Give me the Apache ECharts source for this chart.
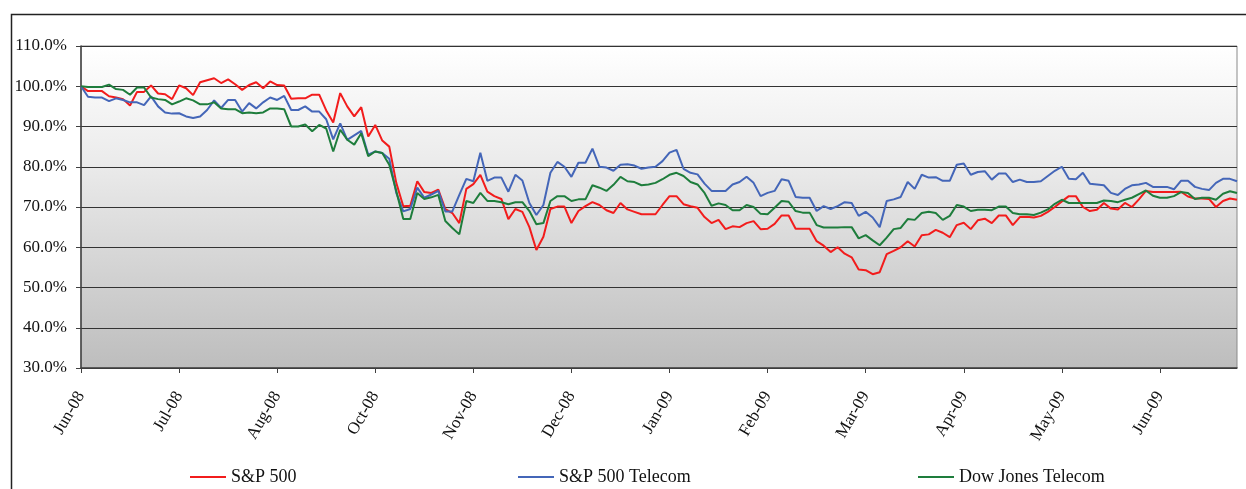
<!DOCTYPE html>
<html lang="en">
<head>
    <meta charset="UTF-8">
    <script src="https://cdn.jsdelivr.net/npm/echarts@6/dist/echarts.min.js"></script>
    <title>Index performance</title>
    <style>
        html, body { margin: 0; padding: 0; background: #fff; }
    </style>
</head>
<body>
<div id="main" style="width: 1246px;height:489px;"></div>

<script type="text/javascript">
    // month labels, one every perTick points
    var tickLabels = ['Jun-08', 'Jul-08', 'Aug-08', 'Oct-08', 'Nov-08', 'Dec-08',
        'Jan-09', 'Feb-09', 'Mar-09', 'Apr-09', 'May-09', 'Jun-09'];
    var perTick = 14;

    var seriesNames = ['S&P 500', 'S&P 500 Telecom', 'Dow Jones Telecom'];

    var sp500 = [
        100.0, 98.8, 98.8, 98.8, 97.5, 97.2, 96.8, 95.2, 98.6, 98.6, 100.2, 98.2, 98.0, 96.8,
        100.2, 99.5, 97.8, 101.0, 101.5, 102.0, 100.8, 101.7, 100.5, 99.1, 100.3, 101.0, 99.5, 101.2,
        100.3, 100.2, 96.9, 97.0, 97.0, 97.9, 97.9, 94.0, 91.0, 98.3, 95.0, 92.5, 94.8, 87.5,
        90.4, 86.5, 85.0, 76.0, 70.2, 70.3, 76.4, 73.7, 73.5, 74.3, 69.5, 68.5, 66.0, 74.5,
        75.7, 78.0, 73.8, 72.7, 72.0, 67.0, 69.5, 68.8, 65.0, 59.3, 62.6, 69.5, 70.1, 70.1,
        66.0, 69.0, 70.2, 71.2, 70.5, 69.2, 68.5, 71.0, 69.4, 68.8, 68.2, 68.2, 68.2, 70.5,
        72.7, 72.7, 70.7, 70.2, 69.8, 67.5, 66.0, 66.8, 64.5, 65.2, 65.0, 66.0, 66.5, 64.5,
        64.6, 65.8, 67.9, 67.9, 64.6, 64.6, 64.6, 61.5, 60.4, 58.8, 60.0, 58.4, 57.5, 54.5,
        54.3, 53.3, 53.8, 58.3, 59.1, 60.0, 61.5, 60.2, 63.0, 63.2, 64.3, 63.6, 62.5, 65.5,
        66.1, 64.5, 66.7, 67.1, 66.0, 67.9, 67.9, 65.5, 67.5, 67.6, 67.4, 67.8, 68.8, 70.0,
        71.4, 72.7, 72.7, 70.0, 69.0, 69.3, 71.0, 69.6, 69.4, 71.0, 70.0, 71.9, 74.0, 73.7,
        73.7, 73.7, 73.7, 73.8, 72.6, 72.1, 72.1, 72.0, 70.0, 71.5, 72.1, 71.8
    ];

    var spTelecom = [
        100.0, 97.4, 97.2, 97.2, 96.3, 97.0, 96.6, 96.0, 96.0, 95.3, 97.5, 95.0, 93.5, 93.2,
        93.3, 92.5, 92.1, 92.5, 94.1, 96.5, 94.6, 96.6, 96.6, 93.7, 95.8, 94.5, 96.0, 97.2,
        96.6, 97.6, 94.1, 94.1, 95.0, 93.7, 93.7, 91.8, 86.8, 90.8, 86.7, 87.8, 88.9, 83.0,
        83.8, 83.4, 82.0, 73.5, 68.9, 69.5, 74.8, 72.3, 73.1, 74.0, 68.9, 68.9, 73.0, 77.0,
        76.4, 83.5, 76.5, 77.3, 77.3, 73.8, 78.0, 76.6, 71.0, 68.0, 70.5, 78.5, 81.2, 80.0,
        77.5, 81.0, 81.0, 84.5, 80.0, 79.8, 79.0, 80.5, 80.6, 80.3, 79.5, 79.8, 80.0, 81.4,
        83.5, 84.2, 79.5, 78.5, 78.1, 75.8, 74.0, 74.0, 74.0, 75.6, 76.2, 77.5, 76.0, 72.7,
        73.5, 74.0, 76.9, 76.5, 72.5, 72.3, 72.3, 69.0, 70.2, 69.5, 70.2, 71.2, 71.0, 67.8,
        68.8, 67.4, 65.0, 71.5, 71.9, 72.5, 76.2, 74.5, 78.0, 77.3, 77.4, 76.5, 76.5, 80.5,
        80.8, 78.0, 78.7, 78.9, 76.8, 78.3, 78.3, 76.2, 76.8, 76.2, 76.2, 76.4, 77.7, 79.0,
        80.0, 77.0, 76.9, 78.5, 75.8, 75.6, 75.4, 73.5, 73.0, 74.5, 75.4, 75.6, 76.0, 75.0,
        75.0, 75.0, 74.4, 76.5, 76.5, 75.0, 74.5, 74.2, 76.0, 77.0, 77.0, 76.4
    ];

    var djTelecom = [
        100.0, 99.8, 99.8, 99.8, 100.4, 99.3, 99.1, 97.9, 99.7, 99.7, 97.2, 96.8, 96.6, 95.5,
        96.2, 97.0, 96.5, 95.5, 95.5, 96.0, 94.5, 94.3, 94.3, 93.3, 93.5, 93.3, 93.5, 94.5,
        94.5, 94.3, 90.0, 90.0, 90.5, 88.8, 90.4, 89.5, 83.8, 89.2, 86.7, 85.5, 88.3, 82.6,
        83.8, 83.4, 80.5, 74.0, 67.0, 67.0, 73.5, 72.0, 72.4, 73.0, 66.5, 64.8, 63.2, 71.5,
        71.0, 73.5, 71.5, 71.5, 71.2, 70.7, 71.2, 71.2, 69.0, 65.7, 66.0, 71.5, 72.7, 72.7,
        71.5, 71.9, 71.9, 75.4, 74.8, 74.0, 75.5, 77.5, 76.4, 76.2, 75.4, 75.6, 76.0, 76.9,
        78.0, 78.5, 77.7, 76.2, 75.6, 73.5, 70.3, 70.9, 70.5, 69.2, 69.2, 70.5, 70.0, 68.3,
        68.2, 69.8, 71.5, 71.3, 69.0, 68.6, 68.6, 65.5, 64.9, 64.9, 64.9, 65.0, 65.0, 62.2,
        63.0, 61.7, 60.5, 62.4, 64.5, 64.8, 67.0, 66.8, 68.5, 68.8, 68.5, 66.8, 67.8, 70.5,
        70.1, 69.0, 69.3, 69.3, 69.2, 70.1, 70.1, 68.5, 68.2, 68.2, 68.0, 68.6, 69.4, 70.8,
        71.8, 71.0, 71.0, 71.0, 71.0, 71.0, 71.6, 71.5, 71.2, 71.8, 72.3, 73.2, 74.1, 72.8,
        72.3, 72.3, 72.7, 73.7, 73.5, 72.0, 72.3, 72.3, 71.8, 73.3, 73.9, 73.5
    ];

    var lineColors = ['#f21c1c', '#4466b8', '#1e7d3c'];

    var days = sp500.map(function (v, i) { return String(i); });

    var myChart = echarts.init(document.getElementById('main'));
    var serifFont = '"Liberation Serif", "DejaVu Serif", serif';

    var legendLefts = [185, 513, 913];
    var legends = [];
    for (var k = 0; k < seriesNames.length; k++) {
        legends.push({
            data: [seriesNames[k]],
            left: legendLefts[k],
            top: 463,
            icon: 'rect',
            itemWidth: 36,
            itemHeight: 2,
            textStyle: { fontFamily: serifFont, fontSize: 18, color: '#111' }
        });
    }

    var dataSets = [sp500, spTelecom, djTelecom];
    var series = [];
    for (var s = 0; s < dataSets.length; s++) {
        series.push({
            name: seriesNames[s],
            type: 'line',
            symbol: 'none',
            color: lineColors[s],
            lineStyle: { width: 2, color: lineColors[s] },
            data: dataSets[s]
        });
    }

    var option = {
        animation: false,
        backgroundColor: '#fff',
        graphic: [{
            type: 'rect',
            shape: { x: 11.5, y: 14.5, width: 1260, height: 500 },
            style: { fill: 'none', stroke: '#222', lineWidth: 1.5 },
            silent: true
        }],
        legend: legends,
        grid: {
            left: 81,
            right: 9,
            top: 46,
            bottom: 121,
            show: true,
            borderColor: '#8a8a8a',
            borderWidth: 1,
            backgroundColor: new echarts.graphic.LinearGradient(0, 0, 0, 1, [
                { offset: 0, color: '#ffffff' },
                { offset: 0.35, color: '#ececec' },
                { offset: 1, color: '#bdbdbd' }
            ])
        },
        xAxis: {
            type: 'category',
            data: days,
            boundaryGap: false,
            axisLine: { lineStyle: { color: '#404040', width: 1.5 } },
            axisTick: { interval: perTick - 1, length: 5, lineStyle: { color: '#404040' } },
            axisLabel: {
                interval: perTick - 1,
                rotate: 60,
                margin: 25,
                fontFamily: serifFont,
                fontSize: 17,
                color: '#111',
                formatter: function (value, index) {
                    return tickLabels[Math.round(index / perTick)] || '';
                }
            },
            splitLine: { show: false }
        },
        yAxis: {
            type: 'value',
            min: 30,
            max: 110,
            interval: 10,
            axisLine: { show: true, lineStyle: { color: '#404040', width: 1.5 } },
            axisTick: { show: true, length: 5, lineStyle: { color: '#404040' } },
            axisLabel: {
                margin: 14,
                fontFamily: serifFont,
                fontSize: 17,
                color: '#111',
                formatter: function (v) { return v.toFixed(1) + '%'; }
            },
            splitLine: { lineStyle: { color: '#333', width: 1 } }
        },
        series: series
    };
    myChart.setOption(option);
</script>
</body>
</html>
